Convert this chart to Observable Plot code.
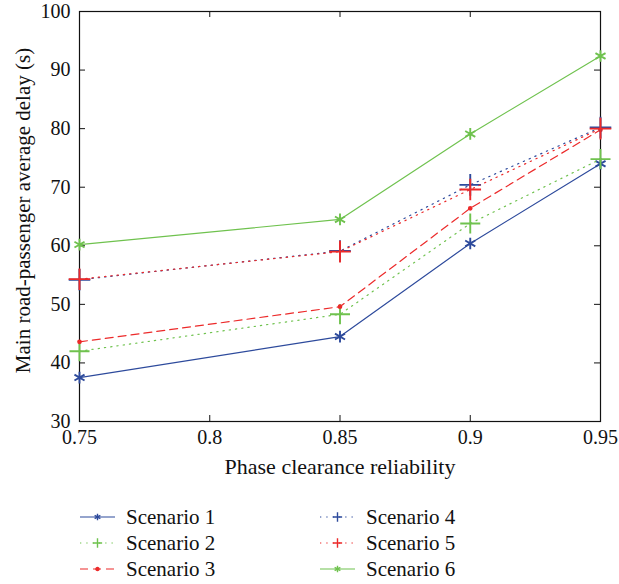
<!DOCTYPE html>
<html>
<head>
<meta charset="utf-8">
<script src="https://cdn.jsdelivr.net/npm/d3@7"></script>
<script src="https://cdn.jsdelivr.net/npm/@observablehq/plot@0.6"></script>
<style>
  body { margin: 0; background: #fff; font-family: "Liberation Serif", serif; }
  #chart svg { display: block; }
  #legend { position: relative; width: 619px; height: 99px; }
  .item { position: absolute; display: flex; align-items: center; font-size: 21px; color: #111; }
  .item svg { margin-right: 10px; }
</style>
</head>
<body>
<div id="chart"></div>
<div id="legend"></div>
<script>
const xValues = [0.75, 0.85, 0.9, 0.95];
const xTicks = [0.75, 0.8, 0.85, 0.9, 0.95];
const xTickLabels = ["0.75", "0.8", "0.85", "0.9", "0.95"];
const yTicks = [30, 40, 50, 60, 70, 80, 90, 100];
const seriesNames = ["Scenario 1", "Scenario 2", "Scenario 3", "Scenario 4", "Scenario 5", "Scenario 6"];
const scenario1 = [37.5, 44.5, 60.4, 74.0];
const scenario2 = [42.0, 48.3, 63.8, 74.8];
const scenario3 = [43.6, 49.6, 66.4, 79.8];
const scenario4 = [54.2, 59.1, 70.4, 80.2];
const scenario5 = [54.3, 59.0, 69.6, 80.0];
const scenario6 = [60.2, 64.5, 79.1, 92.4];
const seriesValues = [scenario1, scenario2, scenario3, scenario4, scenario5, scenario6];

const BLUE = "#2d4a9c", GREEN = "#6fc24e", RED = "#ec2a2a";
const styles = [
  {color: BLUE, dash: null, symbol: "asterisk", r: 5.5},
  {color: GREEN, dash: "1.3,5", symbol: "plus", r: 6.5},
  {color: RED, dash: "8,5", symbol: "circle", r: 1.6},
  {color: BLUE, dash: "1.3,5", symbol: "plus", r: 7},
  {color: RED, dash: "1.3,5", symbol: "plus", r: 7},
  {color: GREEN, dash: null, symbol: "asterisk", r: 5.5}
];

const rows = [];
seriesNames.forEach((name, i) => {
  xValues.forEach((x, j) => rows.push({series: name, idx: i, x, y: seriesValues[i][j]}));
});

const W = 619, H = 485;
const mL = 79, mR = 19, mT = 11, mB = 64;
const pw = W - mL - mR, ph = H - mT - mB;
const T = 6;

const marks = [Plot.frame({stroke: "#111", strokeWidth: 1.2})];
// inward ticks on all four sides
marks.push(Plot.tickX(xTicks, {x: d => d, stroke: "#111", insetTop: ph - T}));
marks.push(Plot.tickX(xTicks, {x: d => d, stroke: "#111", insetBottom: ph - T}));
marks.push(Plot.tickY(yTicks, {y: d => d, stroke: "#111", insetRight: pw - T}));
marks.push(Plot.tickY(yTicks, {y: d => d, stroke: "#111", insetLeft: pw - T}));
seriesNames.forEach((name, i) => {
  const st = styles[i];
  const data = rows.filter(d => d.idx === i);
  marks.push(Plot.line(data, {x: "x", y: "y", stroke: st.color, strokeWidth: 1.2, strokeDasharray: st.dash}));
  if (st.symbol === "circle") {
    marks.push(Plot.dot(data, {x: "x", y: "y", r: st.r, fill: st.color, stroke: st.color, symbol: "circle"}));
  } else {
    marks.push(Plot.dot(data, {x: "x", y: "y", r: st.r, stroke: st.color, strokeWidth: 1.9, symbol: st.symbol}));
  }
});
marks.push(Plot.axisX(xTicks, {tickSize: 0, tickPadding: 8, tickFormat: (d, i) => xTickLabels[i], fontSize: 20, label: null}));
marks.push(Plot.axisY(yTicks, {tickSize: 0, tickPadding: 9, fontSize: 20, label: null}));

const chart = Plot.plot({
  width: W, height: H,
  marginLeft: mL, marginRight: mR, marginTop: mT, marginBottom: mB,
  style: {fontFamily: "'Liberation Serif', serif", fontSize: "20px", color: "#111", background: "#fff"},
  x: {domain: [0.75, 0.95], label: null},
  y: {domain: [30, 100], label: null},
  marks: [
    ...marks,
    Plot.text(["Phase clearance reliability"], {text: d => d, frameAnchor: "bottom", dy: 52, fontSize: 22, fill: "#111"}),
    Plot.text(["Main road-passenger average delay (s)"], {text: d => d, frameAnchor: "left", textAnchor: "middle", dx: -56, dy: -6, rotate: -90, fontSize: 21, fill: "#111"})
  ]
});
document.getElementById("chart").appendChild(chart);

// legend
const legend = d3.select("#legend");
const positions = [[80, 517], [80, 543], [80, 569], [320, 517], [320, 543], [320, 569]];
seriesNames.forEach((name, i) => {
  const st = styles[i];
  const [lx, ly] = positions[i];
  const item = legend.append("div").attr("class", "item")
    .style("left", lx + "px").style("top", (ly - 485 - 13) + "px");
  const svg = item.append("svg").attr("width", 36).attr("height", 26);
  svg.append("line").attr("x1", 0).attr("x2", 35).attr("y1", 13).attr("y2", 13)
    .attr("stroke", st.color).attr("stroke-width", 1.2)
    .attr("stroke-dasharray", st.dash);
  const symType = st.symbol === "asterisk" ? d3.symbolAsterisk : st.symbol === "plus" ? d3.symbolPlus : d3.symbolCircle;
  const size = st.symbol === "circle" ? 8 : 30;
  svg.append("path").attr("d", d3.symbol(symType, size)())
    .attr("transform", "translate(17.5,13)")
    .attr("fill", st.symbol === "circle" ? st.color : "none")
    .attr("stroke", st.color).attr("stroke-width", 1.4);
  item.append("span").text(name);
});
</script>
</body>
</html>
